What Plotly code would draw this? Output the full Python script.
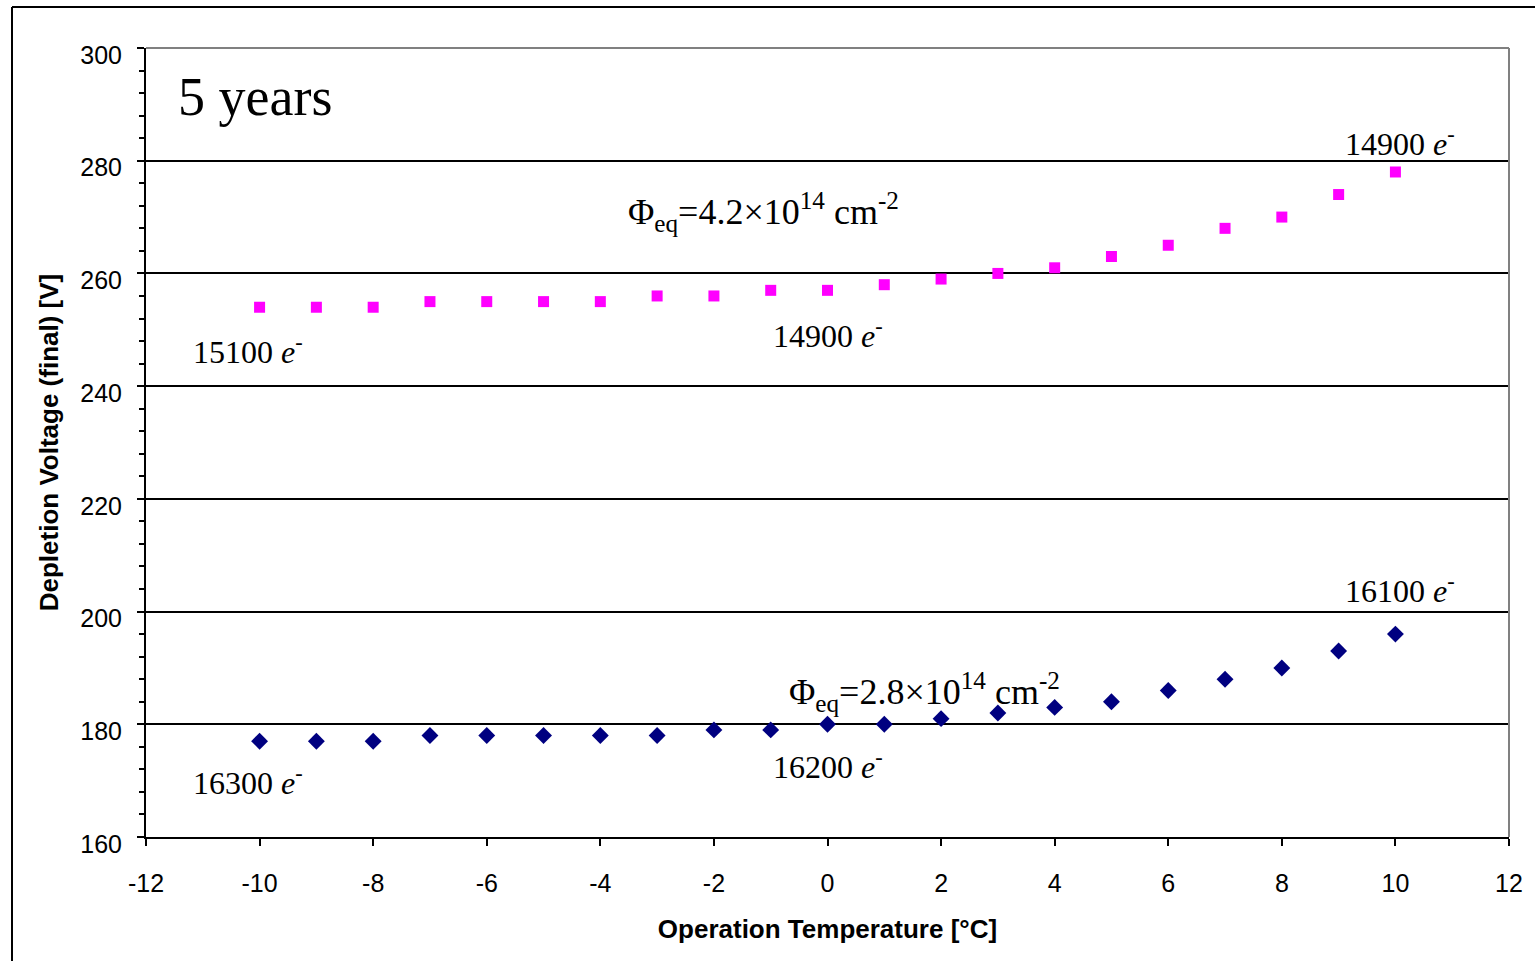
import plotly.graph_objects as go

temps = [-10, -9, -8, -7, -6, -5, -4, -3, -2, -1, 0, 1, 2, 3, 4, 5, 6, 7, 8, 9, 10]
v_high = [254, 254, 254, 255, 255, 255, 255, 256, 256, 257, 257, 258, 259, 260, 261, 263, 265, 268, 270, 274, 278]
v_low = [177, 177, 177, 178, 178, 178, 178, 178, 179, 179, 180, 180, 181, 182, 183, 184, 186, 188, 190, 193, 196]

x_ticks = list(range(-12, 13, 2))
x_ticktext = [str(v) for v in x_ticks]
y_ticks = list(range(160, 301, 20))
y_ticktext = [str(v) for v in y_ticks]

W, H = 1535, 961
L, R, T, B = 146, 1509, 48, 837

fig = go.Figure()
fig.add_trace(go.Scatter(x=temps, y=v_high, mode="markers",
                         marker=dict(symbol="square", size=11, color="#FF00FF"),
                         showlegend=False))
fig.add_trace(go.Scatter(x=temps, y=v_low, mode="markers",
                         marker=dict(symbol="diamond", size=13, color="#000080"),
                         showlegend=False))

serif = "Liberation Serif, Times New Roman, serif"

def ann(x, y, text, size=32, xanchor="center"):
    fig.add_annotation(x=x, y=y, xref="x", yref="y", text=text, showarrow=False,
                       xanchor=xanchor, yanchor="middle",
                       font=dict(family=serif, size=size, color="black"))

ann(-11.48, 291.3, "5 years", size=54, xanchor="left")
ann(-10.2, 246.5, "15100 <i>e</i><sup>-</sup>")
ann(0.0, 249.2, "14900 <i>e</i><sup>-</sup>")
ann(10.08, 283.4, "14900 <i>e</i><sup>-</sup>")
ann(-1.12, 270.9, "Φ<sub>eq</sub>=4.2×10<sup>14</sup> cm<sup>-2</sup>", size=36)
ann(10.08, 204.0, "16100 <i>e</i><sup>-</sup>")
ann(1.70, 185.7, "Φ<sub>eq</sub>=2.8×10<sup>14</sup> cm<sup>-2</sup>", size=36)
ann(0.0, 172.7, "16200 <i>e</i><sup>-</sup>")
ann(-10.2, 169.9, "16300 <i>e</i><sup>-</sup>")

pw, ph = R - L, B - T
def px(xp):
    return (xp - L) / pw
def py(yp):
    return (B - yp) / ph

# plot-area gray top/right border
fig.add_shape(type="line", xref="paper", yref="paper", x0=0, x1=1, y0=1, y1=1,
              line=dict(color="#808080", width=2), layer="above")
fig.add_shape(type="line", xref="paper", yref="paper", x0=1, x1=1, y0=0, y1=1,
              line=dict(color="#808080", width=2), layer="above")
# outer chart frame (top and left edges visible)
fig.add_shape(type="line", xref="paper", yref="paper", x0=px(12), x1=px(1540), y0=py(7), y1=py(7),
              line=dict(color="black", width=2))
fig.add_shape(type="line", xref="paper", yref="paper", x0=px(12), x1=px(12), y0=py(7), y1=py(970),
              line=dict(color="black", width=2))

sans = "Liberation Sans, Arial, sans-serif"
fig.update_layout(
    width=W, height=H,
    margin=dict(l=L, r=W - R, t=T, b=H - B),
    plot_bgcolor="white", paper_bgcolor="white",
    xaxis=dict(range=[-12, 12], tickvals=x_ticks, ticktext=x_ticktext, ticks="outside",
               ticklen=7, tickwidth=2, ticklabelstandoff=16,
               tickcolor="black", showline=True, linecolor="black", linewidth=2,
               showgrid=False, zeroline=False,
               tickfont=dict(family=sans, size=25, color="black"),
               title=dict(text="<b>Operation Temperature [°C]</b>", standoff=24,
                          font=dict(family=sans, size=26, color="black"))),
    yaxis=dict(range=[160, 300], tickvals=y_ticks, ticktext=y_ticktext, ticks="outside",
               ticklen=7, tickwidth=2, ticklabelstandoff=10, ticklabelshift=7,
               tickcolor="black", showline=True, linecolor="black", linewidth=2,
               showgrid=True, gridcolor="black", gridwidth=1.5, zeroline=False,
               minor=dict(dtick=4, ticks="outside", ticklen=5, tickwidth=2, tickcolor="black",
                          showgrid=False),
               tickfont=dict(family=sans, size=25, color="black"),
               title=dict(text="<b>Depletion Voltage (final) [V]</b>", standoff=14,
                          font=dict(family=sans, size=26, color="black"))),
)

fig.write_html("out.html")
